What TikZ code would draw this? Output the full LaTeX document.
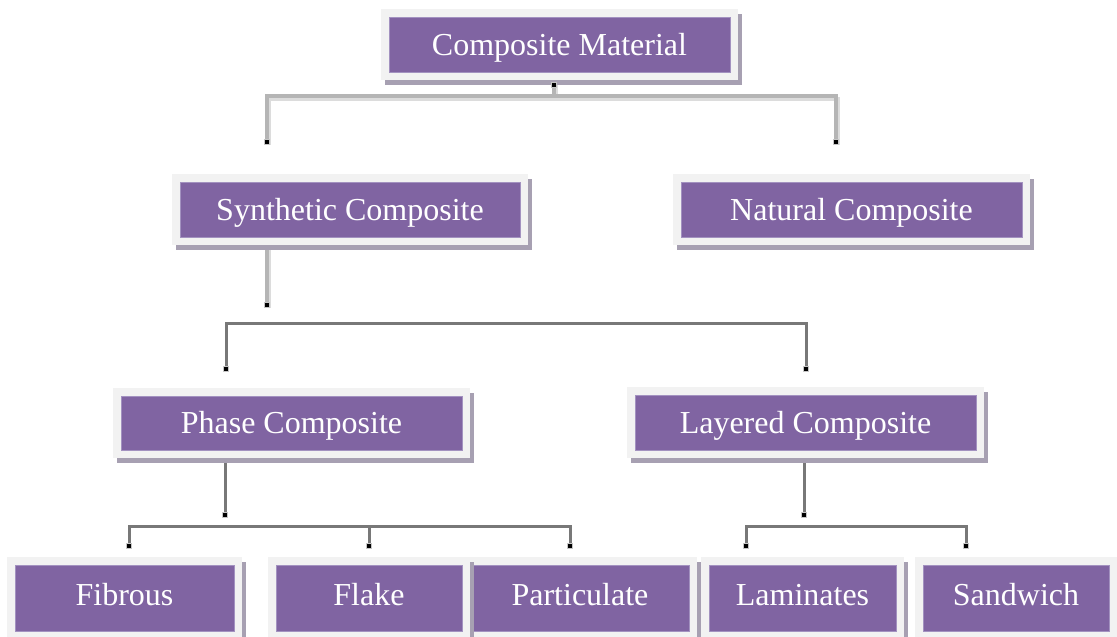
\documentclass[tikz,border=0pt]{standalone}
\usepackage{fontspec}
\setmainfont{Liberation Serif}
\usetikzlibrary{shadows,backgrounds}
\definecolor{boxpurple}{HTML}{8064A2}
\definecolor{boxedge}{HTML}{A392C0}
\definecolor{framegray}{HTML}{F2F2F2}
\definecolor{shadowgray}{HTML}{A7A0B2}
\definecolor{lightline}{HTML}{B5B5B5}
\definecolor{lightshade}{HTML}{DCDCDC}
\definecolor{darkline}{HTML}{787878}
\tikzset{
  cbox/.style={rectangle, fill=framegray, inner sep=0pt, minimum height=71pt,
    text=white, font=\fontsize{32}{38}\selectfont, text height=21.2pt, text depth=0pt,
    drop shadow={shadow xshift=4pt, shadow yshift=-5pt, fill=shadowgray, opacity=1},
    path picture={\fill[boxpurple, draw=boxedge, line width=0.8pt]
      ([shift={(8pt,8pt)}]path picture bounding box.south west) rectangle
      ([shift={(-8pt,-8pt)}]path picture bounding box.north east);}},
  lowbox/.style={cbox, minimum height=82pt, text depth=7pt},
  lightconn/.style={line width=3.2pt, draw=lightline,
    preaction={draw=lightshade, line width=3.2pt, transform canvas={shift={(2.8pt,-3pt)}}}},
  darkconn/.style={line width=3pt, draw=darkline},
  dotn/.style={rectangle, fill=black, draw=gray!45, line width=1.2pt,
    minimum size=5.5pt, inner sep=0pt}
}
\begin{document}
\begin{tikzpicture}[x=1pt, y=-1pt]
\useasboundingbox (0,0) rectangle (1117,637);
\clip (0,0) rectangle (1117,637);

% boxes
\node[cbox, minimum width=357pt] (top) at (559.5,44.5) {Composite Material};
\node[cbox, minimum width=356pt] (syn) at (350,209.5) {Synthetic Composite};
\node[cbox, minimum width=357pt] (nat) at (851.5,209.5) {Natural Composite};
\node[cbox, minimum width=357pt, minimum height=70pt] (phase) at (291.5,423) {Phase Composite};
\node[cbox, minimum width=357pt] (layer) at (805.5,422.5) {Layered Composite};
\node[lowbox, minimum width=235pt] (fib) at (124.5,598) {Fibrous};
\node[lowbox, minimum width=234pt] (part) at (580,598) {Particulate};
\node[lowbox, minimum width=202pt] (flake) at (369,598) {Flake};
\node[lowbox, minimum width=203pt] (lam) at (802.5,598) {Laminates};
\node[lowbox, minimum width=202pt] (sand) at (1016,598) {Sandwich};

% connector end points
\node[dotn] (d0) at (554,85) {};
\coordinate (j0) at (554,96);
\node[dotn] (e1) at (267,142) {};
\node[dotn] (e2) at (836,142) {};
\node[dotn] (d1) at (267,305) {};
\coordinate (j1) at (267,323);
\node[dotn] (e3) at (226,369) {};
\node[dotn] (e4) at (806,369) {};
\node[dotn] (d2) at (225,515) {};
\coordinate (j2) at (225,526);
\node[dotn] (e5) at (129,546) {};
\node[dotn] (e6) at (369,546) {};
\node[dotn] (e7) at (570,546) {};
\node[dotn] (d3) at (804,515) {};
\coordinate (j3) at (804,526);
\node[dotn] (e8) at (746,546) {};
\node[dotn] (e9) at (966,546) {};

\begin{scope}[on background layer]
  \draw[lightconn] (top.south -| d0) -- (j0);
  \draw[lightconn] (e1.center) -- (e1 |- j0) -- (e2 |- j0) -- (e2.center);
  \draw[lightconn] (syn.south -| d1) -- (d1.center);
  \draw[darkconn] (e3.center) -- (e3 |- j1) -- (e4 |- j1) -- (e4.center);
  \draw[darkconn] (phase.south -| d2) -- (d2.center);
  \draw[darkconn] (e5.center) -- (e5 |- j2) -- (e7 |- j2) -- (e7.center);
  \draw[darkconn] (e6 |- j2) -- (e6.center);
  \draw[darkconn] (layer.south -| d3) -- (d3.center);
  \draw[darkconn] (e8.center) -- (e8 |- j3) -- (e9 |- j3) -- (e9.center);
\end{scope}
\end{tikzpicture}
\end{document}
